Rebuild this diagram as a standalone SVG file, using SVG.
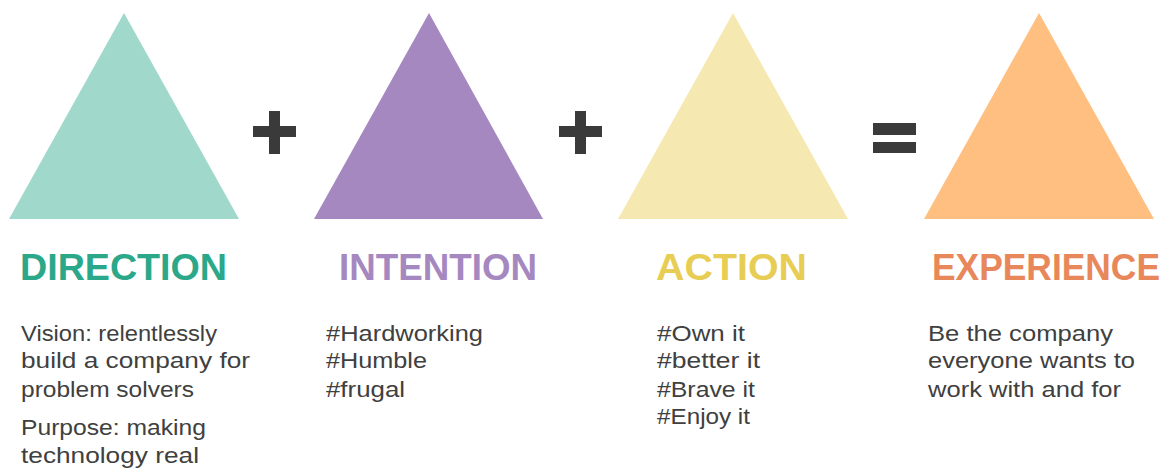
<svg xmlns="http://www.w3.org/2000/svg" width="1171" height="474" viewBox="0 0 1171 474">
<style>
.h{font-family:"Liberation Sans",Arial,sans-serif;font-weight:bold;font-size:37px}
.b{font-family:"Liberation Sans",Arial,sans-serif;font-size:22.5px;fill:#404040}
.op{fill:#3a3a3a}
</style>
<rect width="1171" height="474" fill="#ffffff"/>
<g id="direction">
<polygon points="124,13 239,219 9,219" fill="#A0D8CB"/>
<text class="h" x="20" y="280" fill="#2BA88A" textLength="207" lengthAdjust="spacingAndGlyphs">DIRECTION</text>
<text class="b" x="21" y="341" textLength="196" lengthAdjust="spacingAndGlyphs">Vision: relentlessly</text>
<text class="b" x="21" y="368" textLength="229" lengthAdjust="spacingAndGlyphs">build a company for</text>
<text class="b" x="21" y="397" textLength="173" lengthAdjust="spacingAndGlyphs">problem solvers</text>
<text class="b" x="21" y="435" textLength="185" lengthAdjust="spacingAndGlyphs">Purpose: making</text>
<text class="b" x="21" y="463" textLength="178" lengthAdjust="spacingAndGlyphs">technology real</text>
</g>
<g id="intention">
<polygon points="429,13 543,219 314,219" fill="#A688C1"/>
<text class="h" x="339" y="280" fill="#A688C1" textLength="198" lengthAdjust="spacingAndGlyphs">INTENTION</text>
<text class="b" x="326" y="341" textLength="157" lengthAdjust="spacingAndGlyphs">#Hardworking</text>
<text class="b" x="326" y="368" textLength="101" lengthAdjust="spacingAndGlyphs">#Humble</text>
<text class="b" x="326" y="397" textLength="79" lengthAdjust="spacingAndGlyphs">#frugal</text>
</g>
<g id="action">
<polygon points="733,13 848,219 618,219" fill="#F5E8B0"/>
<text class="h" x="656" y="280" fill="#E8CD55" textLength="151" lengthAdjust="spacingAndGlyphs">ACTION</text>
<text class="b" x="657" y="341" textLength="88" lengthAdjust="spacingAndGlyphs">#Own it</text>
<text class="b" x="657" y="368" textLength="103" lengthAdjust="spacingAndGlyphs">#better it</text>
<text class="b" x="657" y="397" textLength="98" lengthAdjust="spacingAndGlyphs">#Brave it</text>
<text class="b" x="657" y="424" textLength="93" lengthAdjust="spacingAndGlyphs">#Enjoy it</text>
</g>
<g id="experience">
<polygon points="1039,13 1154,219 924,219" fill="#FFBF80"/>
<text class="h" x="932" y="280" fill="#E8885A" textLength="228" lengthAdjust="spacingAndGlyphs">EXPERIENCE</text>
<text class="b" x="928" y="341" textLength="185" lengthAdjust="spacingAndGlyphs">Be the company</text>
<text class="b" x="928" y="368" textLength="207" lengthAdjust="spacingAndGlyphs">everyone wants to</text>
<text class="b" x="928" y="397" textLength="193" lengthAdjust="spacingAndGlyphs">work with and for</text>
</g>
<g id="connectors">
<rect class="op" x="253" y="126" width="43" height="11"/>
<rect class="op" x="269" y="111" width="11" height="43"/>
<rect class="op" x="559" y="126" width="43" height="11"/>
<rect class="op" x="575" y="111" width="11" height="43"/>
<rect class="op" x="873" y="123" width="43" height="12"/>
<rect class="op" x="873" y="142" width="43" height="11"/>
</g>
</svg>
